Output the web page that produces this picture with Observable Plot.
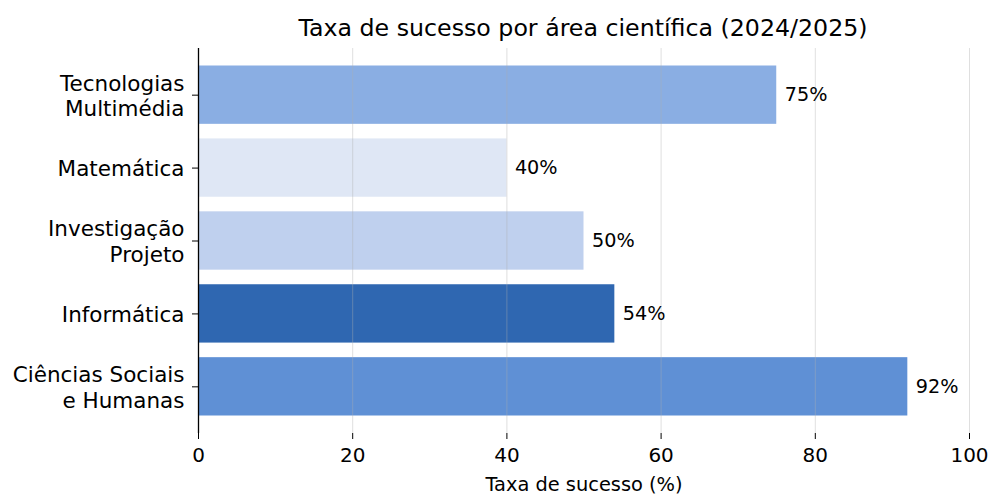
<!DOCTYPE html>
<html>
<head>
<meta charset="utf-8">
<script src="https://cdn.jsdelivr.net/npm/d3@7"></script>
<script src="https://cdn.jsdelivr.net/npm/@observablehq/plot@0.6"></script>
<style>
  html, body { margin: 0; padding: 0; background: #fff; }
  body { width: 991px; height: 495px; overflow: hidden; font-family: "DejaVu Sans", sans-serif; }
  #title { height: 40px; line-height: 56px; font-size: 23.7px; text-align: center; padding-left: 175px; color: #000; box-sizing: border-box; overflow: visible; white-space: nowrap; }
  g[aria-label="x-axis label"] text { font-size: 19.4px; }
</style>
</head>
<body>
<div id="title">Taxa de sucesso por área científica (2024/2025)</div>
<div id="chart"></div>
<script>
const categories = ["Tecnologias\nMultimédia", "Matemática", "Investigação\nProjeto", "Informática", "Ciências Sociais\ne Humanas"];
const values = [75, 40, 50, 54, 92];
const colors = ["#8aaee3", "#dfe7f5", "#bfd0ee", "#2f67b1", "#5f90d5"];
const xTicks = [0, 20, 40, 60, 80, 100];

const data = categories.map((c, i) => ({category: c, value: values[i], color: colors[i]}));

const chart = Plot.plot({
  width: 991,
  height: 455,
  marginLeft: 198,
  marginRight: 22,
  marginTop: 8,
  marginBottom: 62,
  style: {fontFamily: "DejaVu Sans, sans-serif", fontSize: "20px", color: "#000", background: "#fff", overflow: "visible"},
  x: {domain: [0, 100], ticks: xTicks},
  y: {domain: categories, paddingInner: 0.2, paddingOuter: 0.24, round: false},
  marks: [
    Plot.barX(data, {y: "category", x: "value", fill: "color"}),
    Plot.gridX(xTicks, {stroke: "#b0b0b0", strokeOpacity: 0.4, strokeWidth: 1}),
    Plot.text(data, {y: "category", x: "value", text: d => d.value + "%", textAnchor: "start", dx: 8, fontSize: 19.2, fill: "#000"}),
    Plot.axisX({ticks: xTicks, tickSize: 6, tickPadding: 8, fontSize: 20, label: "Taxa de sucesso (%)", labelAnchor: "center", labelArrow: "none", labelOffset: 57, stroke: "#000", strokeOpacity: 1}),
    Plot.ruleY([0], {frameAnchor: "bottom", stroke: "#000", strokeWidth: 1.3}),
    Plot.axisY({tickSize: 6, tickPadding: 8, fontSize: 21.5, lineHeight: 1.2, label: null, stroke: "#000", strokeOpacity: 1}),
    Plot.ruleX([0], {stroke: "#000", strokeWidth: 1.3})
  ]
});
document.getElementById("chart").appendChild(chart);
</script>
</body>
</html>
